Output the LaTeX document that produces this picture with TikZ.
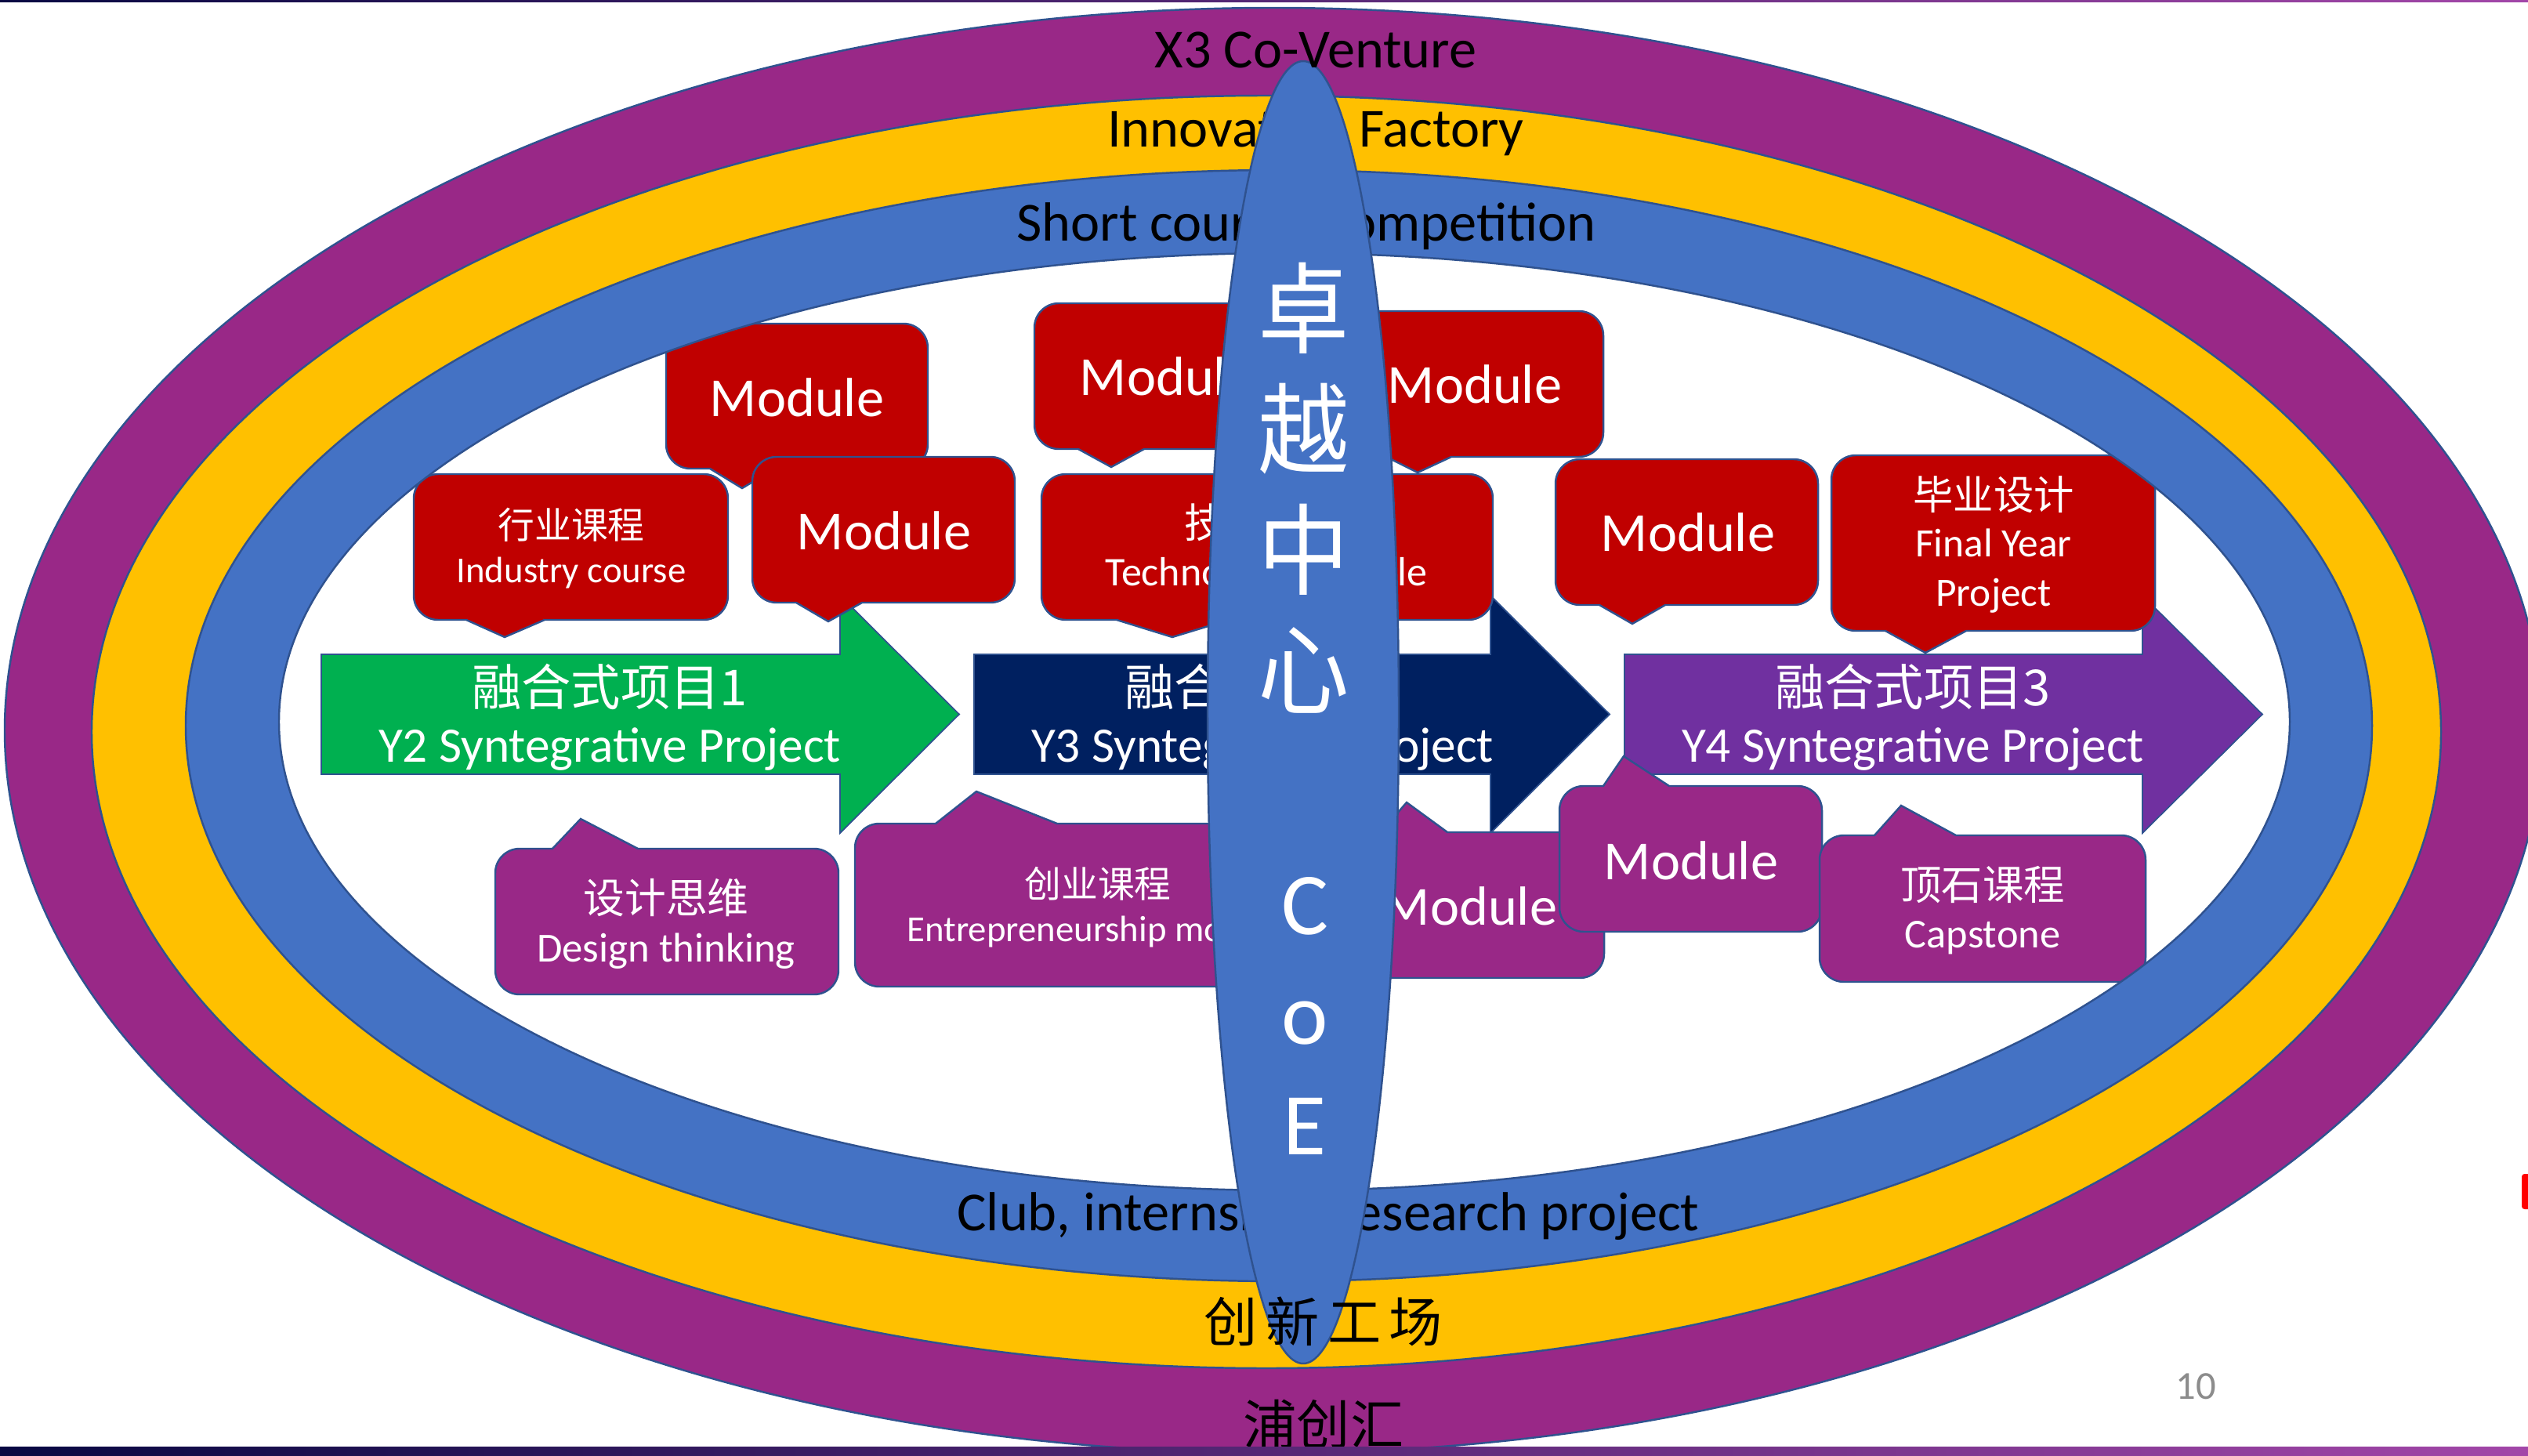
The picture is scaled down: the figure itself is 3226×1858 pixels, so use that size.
\documentclass[tikz,border=0pt]{standalone}
\usepackage{fontspec}
\setmainfont{Carlito}
\newfontfamily\cjk{Noto Sans CJK SC}
\definecolor{purR}{RGB}{153,40,135}
\definecolor{yelR}{RGB}{255,192,0}
\definecolor{bluR}{RGB}{68,114,196}
\definecolor{olc}{RGB}{47,82,143}
\definecolor{redC}{RGB}{192,0,0}
\definecolor{grnA}{RGB}{0,176,80}
\definecolor{navA}{RGB}{0,32,96}
\definecolor{vioA}{RGB}{112,48,160}
\definecolor{barL}{RGB}{8,8,66}
\definecolor{barR}{RGB}{162,70,168}
\definecolor{pgnum}{RGB}{140,140,140}
\tikzset{
  outl/.style={draw=olc, line width=0.7pt},
  lat/.style={font=\fontsize{#1}{#1}\selectfont, text=white, inner sep=0pt, anchor=base},
  cj/.style={font=\cjk\fontsize{#1}{#1}\selectfont, text=white, inner sep=0pt},
  ringlab/.style={font=\fontsize{20}{24}\selectfont, text=black, inner sep=0pt, anchor=base},
  ringcj/.style={font=\cjk\fontsize{19.4}{22}\selectfont, text=black, inner sep=0pt},
}
% callout with wedge at bottom: L,T,R,B, base-left x, base-right x, tip x, tip y, fill
\newcommand\calB[9]{%
  \draw[outl, fill=#9] (#1+31,#2) -- (#3-31,#2) .. controls (#3-14,#2) and (#3,#2+14) .. (#3,#2+31)
   -- (#3,#4-31) .. controls (#3,#4-14) and (#3-14,#4) .. (#3-31,#4)
   -- (#6,#4) -- (#7,#8) -- (#5,#4)
   -- (#1+31,#4) .. controls (#1+14,#4) and (#1,#4-14) .. (#1,#4-31)
   -- (#1,#2+31) .. controls (#1,#2+14) and (#1+14,#2) .. (#1+31,#2) -- cycle;}
% callout with wedge at top
\newcommand\calT[9]{%
  \draw[outl, fill=#9] (#1+31,#2) -- (#5,#2) -- (#7,#8) -- (#6,#2) -- (#3-31,#2) .. controls (#3-14,#2) and (#3,#2+14) .. (#3,#2+31)
   -- (#3,#4-31) .. controls (#3,#4-14) and (#3-14,#4) .. (#3-31,#4)
   -- (#1+31,#4) .. controls (#1+14,#4) and (#1,#4-14) .. (#1,#4-31)
   -- (#1,#2+31) .. controls (#1,#2+14) and (#1+14,#2) .. (#1+31,#2) -- cycle;}
% block arrow: left x, head base x, tip x, fill
\newcommand\blockarrow[4]{%
  \draw[outl, line width=0.5pt, fill=#4] (#1,835) -- (#2,835) -- (#2,760) -- (#3,911.5) -- (#2,1063) -- (#2,988) -- (#1,988) -- cycle;}

\begin{document}
\begin{tikzpicture}[x=0.01cm, y=-0.01cm]
\useasboundingbox (0,0) rectangle (3226,1858);
\fill[white] (0,0) rectangle (3226,1858);

% ---- block arrows ----
\blockarrow{410}{1072}{1224}{grnA}
\blockarrow{1243}{1902}{2054}{navA}
\blockarrow{2073}{2734}{2887}{vioA}

\node[cj=18] (g1) at (778,876) {融合式项目1};
\node[lat=18] (g2) at (778,972) {Y2 Syntegrative Project};
\node[cj=18] (n1) at (1611,876) {融合式项目2};
\node[lat=18] (n2) at (1611,972) {Y3 Syntegrative Project};
\node[cj=18] (v1) at (2441,876) {融合式项目3};
\node[lat=18] (v2) at (2441,972) {Y4 Syntegrative Project};

% ---- red callouts ----
\calB{528}{605}{929}{791}{595}{695}{644}{813}{redC}
\calB{850}{413}{1184}{598}{906}{989}{947}{623}{redC}
\calB{960}{583}{1295}{769}{1016}{1100}{1057}{793}{redC}
\calB{1320}{387}{1656}{573}{1376}{1460}{1418}{596}{redC}
\calB{1714}{397}{2046}{583}{1769}{1852}{1809}{603}{redC}
\calB{1329}{605}{1905}{791}{1425}{1568}{1496}{813}{redC}
\calB{1985}{586}{2320}{772}{2041}{2125}{2083}{796}{redC}
\calB{2337}{581}{2750}{805}{2406}{2509}{2457}{833}{redC}

\node[lat=20] (mA) at (1017,532) {Module};
\node[lat=20] (mB) at (1128,702) {Module};
\node[lat=20] (mD) at (1489,505) {Module};
\node[lat=20] (mE) at (1882,515) {Module};
\node[lat=20] (mG) at (2154,703) {Module};
\node[cj=13.3] (c1) at (729,670) {行业课程};
\node[lat=13.3] (c2) at (729,743) {Industry course};
\node[cj=14.8] (f1) at (1616,667) {技术课程};
\node[lat=14.8] (f2) at (1616,748) {Technology module};
\node[cj=14.6] (h1) at (2544,631) {毕业设计};
\node[lat=14.6] (h2) at (2544,710) {Final Year};
\node[lat=14.6] (h3) at (2544,774) {Project};

% ---- purple callouts ----
\calT{632}{1083}{1070}{1269}{705}{814}{741}{1045}{purR}
\calT{1091}{1051}{1711}{1259}{1194}{1349}{1246}{1010}{purR}
\calT{1705}{1062}{2047}{1248}{1762}{1847}{1795}{1024}{purR}
\calT{1990}{1003}{2325}{1189}{2046}{2130}{2072}{965}{purR}
\calT{2322}{1066}{2738}{1253}{2392}{2496}{2426}{1028}{purR}

\node[cj=15] (i1) at (850,1146) {设计思维};
\node[lat=15] (i2) at (850,1227) {Design thinking};
\node[cj=13.3] (j1) at (1401,1128) {创业课程};
\node[lat=13.3] (j2) at (1401,1201) {Entrepreneurship module};
\node[lat=20] (mK) at (1876,1180) {Module};
\node[lat=20] (mL) at (2158,1122) {Module};
\node[cj=14.9] (k1) at (2530,1129) {顶石课程};
\node[lat=14.9] (k2) at (2530,1209) {Capstone};

% ---- rings (drawn over the boxes) ----
\fill[purR, even odd rule] (1625,932) ellipse [x radius=1619, y radius=922] (1616,934) ellipse [x radius=1499, y radius=812];
\fill[yelR, even odd rule] (1616,934) ellipse [x radius=1499, y radius=812] (1632,926) ellipse [x radius=1395, y radius=709];
\fill[bluR, even odd rule] (1632,926) ellipse [x radius=1395, y radius=709] (1639,921) ellipse [x radius=1283, y radius=598];
\draw[outl] (1625,932) ellipse [x radius=1619, y radius=922];
\draw[outl] (1616,934) ellipse [x radius=1499, y radius=812];
\draw[outl] (1632,926) ellipse [x radius=1395, y radius=709];
\draw[outl] (1639,921) ellipse [x radius=1283, y radius=598];

\node[ringlab] (r2) at (1679,188) {Innovation Factory};
\node[ringlab] (r3) at (1667,308) {Short course, competition};
\node[ringlab] (r4) at (1695,1570) {Club, internship, research project};

% ---- CoE ellipse ----
\draw[outl, fill=bluR] (1663,909) ellipse [x radius=122, y radius=831];
\node[cj=36, xscale=0.92] (z1) at (1664,393) {卓};
\node[cj=36, xscale=0.92] (z2) at (1664,547) {越};
\node[cj=36, xscale=0.92] (z3) at (1664,701) {中};
\node[cj=36, xscale=0.92] (z4) at (1664,855) {心};
\node[lat=32] (e1) at (1665,1192) {C};
\node[lat=32] (e2) at (1665,1332) {o};
\node[lat=32] (e3) at (1665,1473) {E};

\node[ringlab] (r1) at (1679,87) {X3 Co-Venture};
\node[ringcj] (r5) at (1689,1686) {创\kern3pt 新\kern3pt 工\kern3pt 场};
\node[ringcj] (r6) at (1689,1817) {浦创汇};

% ---- slide decorations ----
\shade[left color=barL, right color=barR] (0,0) rectangle (3226,3);
\shade[left color=barL, right color=barR] (0,1846) rectangle (3226,1858);
\node[lat=14.4, text=pgnum] (pg) at (2802,1785) {10};
\fill[red, rounded corners=1pt] (3218,1498) rectangle (3232,1543);
\end{tikzpicture}
\end{document}
